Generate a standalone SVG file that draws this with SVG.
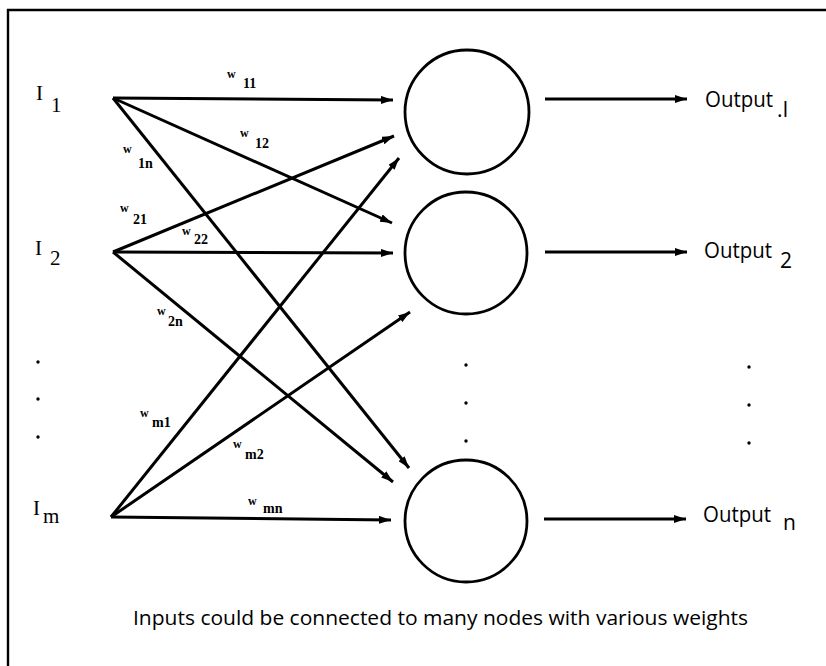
<svg xmlns="http://www.w3.org/2000/svg" width="826" height="666" viewBox="0 0 826 666">
<defs>
<marker id="ah" viewBox="0 0 12 8" refX="12" refY="4" markerWidth="12" markerHeight="8" markerUnits="userSpaceOnUse" orient="auto">
<path d="M0,0 L12,4 L0,8 Z" fill="#000"/>
</marker>
<style>
.c{stroke:#000;stroke-width:3;fill:none;marker-end:url(#ah)}
.n{stroke:#000;stroke-width:2.8;fill:#fff}
.in{font-family:"Liberation Serif",serif;font-size:21px;fill:#000}
.w{font-family:"Liberation Serif",serif;font-size:12px;font-weight:bold;fill:#000}
.ws{font-family:"Liberation Serif",serif;font-size:14px;font-weight:bold;fill:#000}
.out{font-family:"Open Sans","Liberation Sans",sans-serif;font-size:21px;fill:#000}
.cap{font-family:"Open Sans","Liberation Sans",sans-serif;font-size:20px;fill:#000}
.dot{fill:#000}
</style>
</defs>
<rect width="826" height="666" fill="#fff"/>
<g id="frame" stroke="#000" stroke-width="2.4" fill="none">
<line x1="7" y1="10" x2="826" y2="10"/>
<line x1="8" y1="9" x2="8" y2="666"/>
</g>
<g id="connectors">
<line class="c" x1="113" y1="98" x2="393" y2="100"/>
<line class="c" x1="113" y1="98" x2="392" y2="223"/>
<line class="c" x1="113" y1="98" x2="409" y2="468"/>
<line class="c" x1="113" y1="252" x2="394" y2="136"/>
<line class="c" x1="113" y1="252" x2="393" y2="253"/>
<line class="c" x1="113" y1="252" x2="393" y2="482"/>
<line class="c" x1="111" y1="517" x2="399" y2="158"/>
<line class="c" x1="111" y1="517" x2="410" y2="312"/>
<line class="c" x1="111" y1="517" x2="391" y2="520"/>
<line class="c" x1="545" y1="99" x2="687" y2="99"/>
<line class="c" x1="545" y1="252" x2="687" y2="252"/>
<line class="c" x1="544" y1="519" x2="686" y2="519"/>
</g>
<g id="weights">
<text class="w" x="227" y="78">w</text><text class="ws" x="243" y="88">11</text>
<text class="w" x="240" y="137">w</text><text class="ws" x="255" y="148">12</text>
<text class="w" x="123" y="153">w</text><text class="ws" x="138" y="168">1n</text>
<text class="w" x="120" y="212">w</text><text class="ws" x="133" y="224">21</text>
<text class="w" x="182" y="235">w</text><text class="ws" x="194" y="244">22</text>
<text class="w" x="157" y="315">w</text><text class="ws" x="168" y="326">2n</text>
<text class="w" x="140" y="417">w</text><text class="ws" x="152" y="427">m1</text>
<text class="w" x="233" y="448">w</text><text class="ws" x="245" y="459">m2</text>
<text class="w" x="248" y="505">w</text><text class="ws" x="263" y="513">mn</text>
</g>
<g id="input1"><text class="in" x="36" y="100">I</text><text class="in" x="51" y="112">1</text></g>
<g id="input2"><text class="in" x="35" y="255">I</text><text class="in" x="50" y="265">2</text></g>
<g id="inputm"><text class="in" x="33" y="515">I</text><text class="in" x="43" y="523" font-size="22">m</text></g>
<g id="input-dots"><circle class="dot" cx="38" cy="362" r="1.7"/><circle class="dot" cx="38" cy="399" r="1.7"/><circle class="dot" cx="38" cy="437" r="1.7"/></g>
<g id="node1"><circle class="n" cx="467" cy="112" r="62"/></g>
<g id="node2"><circle class="n" cx="466" cy="253" r="61"/></g>
<g id="noden"><circle class="n" cx="466" cy="521" r="61"/></g>
<g id="node-dots"><circle class="dot" cx="466" cy="365" r="1.7"/><circle class="dot" cx="466" cy="403" r="1.7"/><circle class="dot" cx="466" cy="441" r="1.7"/></g>
<g id="output1"><text class="out" x="705" y="107" textLength="68" lengthAdjust="spacingAndGlyphs">Output</text><text class="out" x="777" y="117" font-size="16">.I</text></g>
<g id="output2"><text class="out" x="704" y="258" textLength="68" lengthAdjust="spacingAndGlyphs">Output</text><text class="out" x="780" y="268" font-size="16">2</text></g>
<g id="outputn"><text class="out" x="703" y="522" textLength="68" lengthAdjust="spacingAndGlyphs">Output</text><text class="out" x="783" y="530" font-size="16">n</text></g>
<g id="output-dots"><circle class="dot" cx="749" cy="367" r="1.7"/><circle class="dot" cx="749" cy="405" r="1.7"/><circle class="dot" cx="749" cy="443" r="1.7"/></g>
<text class="cap" x="133" y="625" textLength="615" lengthAdjust="spacingAndGlyphs">Inputs could be connected to many nodes with various weights</text>
</svg>
